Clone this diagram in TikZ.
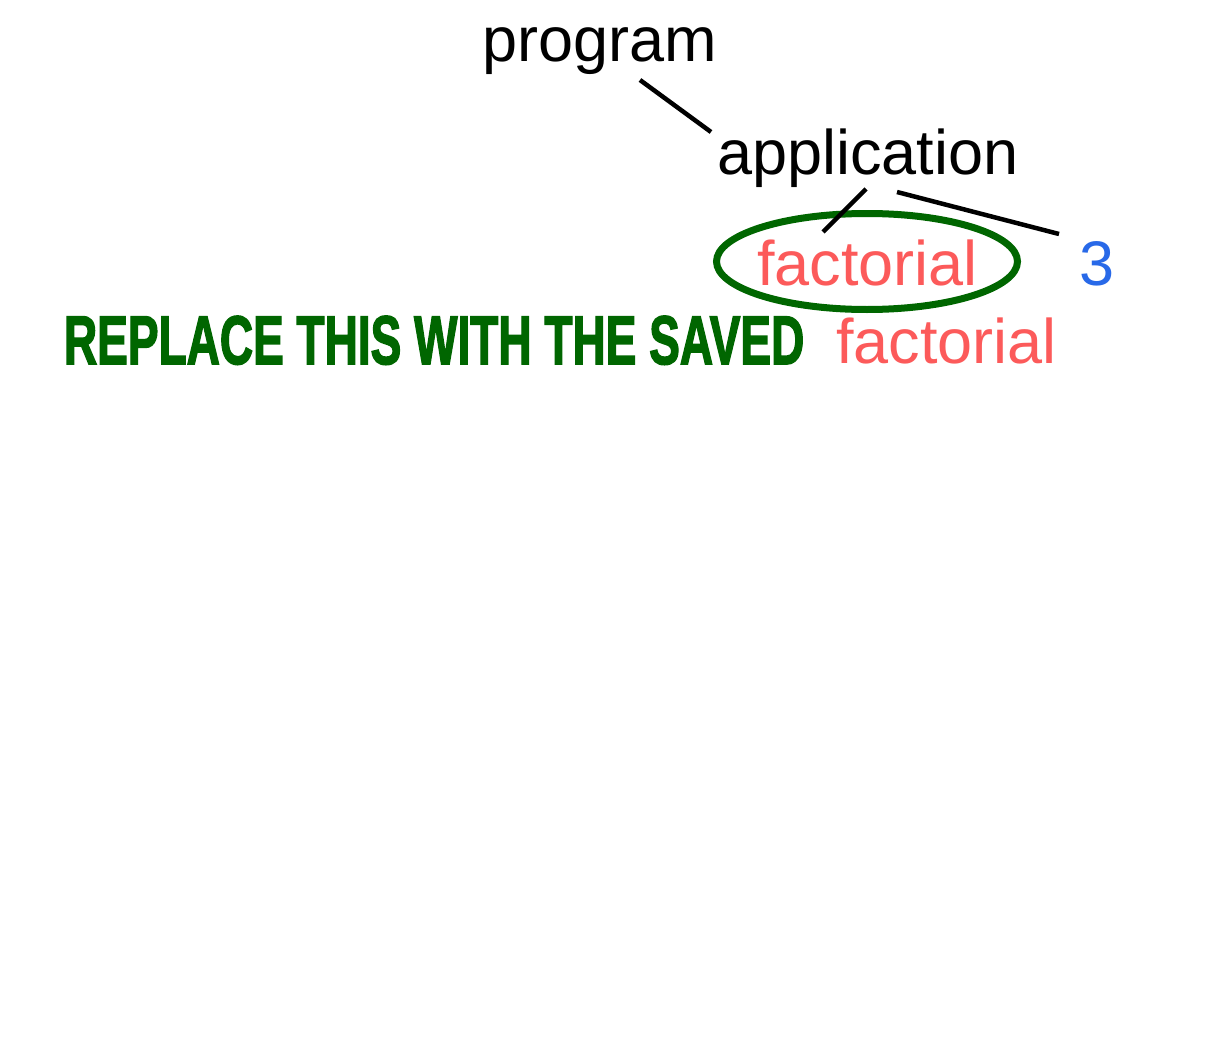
\documentclass[tikz,border=0pt]{standalone}
\usepackage{fontspec}
\setmainfont{Liberation Sans}
\newfontfamily\heavyfont[FakeBold=2.5]{Liberation Sans Bold}
\usetikzlibrary{calc,shapes.geometric}
\definecolor{darkgreen}{RGB}{0,102,0}
\definecolor{softred}{RGB}{252,90,90}
\definecolor{numblue}{RGB}{40,105,232}
\tikzset{
  lbl/.style={inner sep=0pt, outer sep=0pt, anchor=base west, font=\fontsize{63}{70}\selectfont},
  edge/.style={line width=4.5pt, black},
}
\begin{document}
\begin{tikzpicture}[x=1pt,y=-1pt]
\useasboundingbox[fill=white] (0,0) rectangle (1216,1062);
\node[lbl] (prog) at (482,62) {program};
\node[lbl] (app) at (717,175) {application};
\node[lbl, text=softred] (fact) at (757,285) {factorial};
\node[lbl, text=numblue] (three) at (1079,285) {3};
\node[lbl, text=softred] (fact2) at (836,363) {factorial};
\node[ellipse, draw=darkgreen, line width=7pt, inner sep=0pt, minimum width=301pt, minimum height=96pt] (ell) at (867,261.5) {};
\node[inner sep=0pt, outer sep=0pt, anchor=base west, text=darkgreen] (note) at (64,364)
  {\resizebox{740pt}{48pt}{\heavyfont REPLACE THIS WITH THE SAVED}};
\draw[edge] ($(prog.base west)+(158,18)$) -- ($(app.base west)+(-6,-43)$);
\draw[edge] ($(app.base west)+(149,14)$) -- ($(fact.base west)+(66,-53)$);
\draw[edge] ($(app.base west)+(180,17)$) -- ($(three.base west)+(-20,-51)$);
\end{tikzpicture}
\end{document}
